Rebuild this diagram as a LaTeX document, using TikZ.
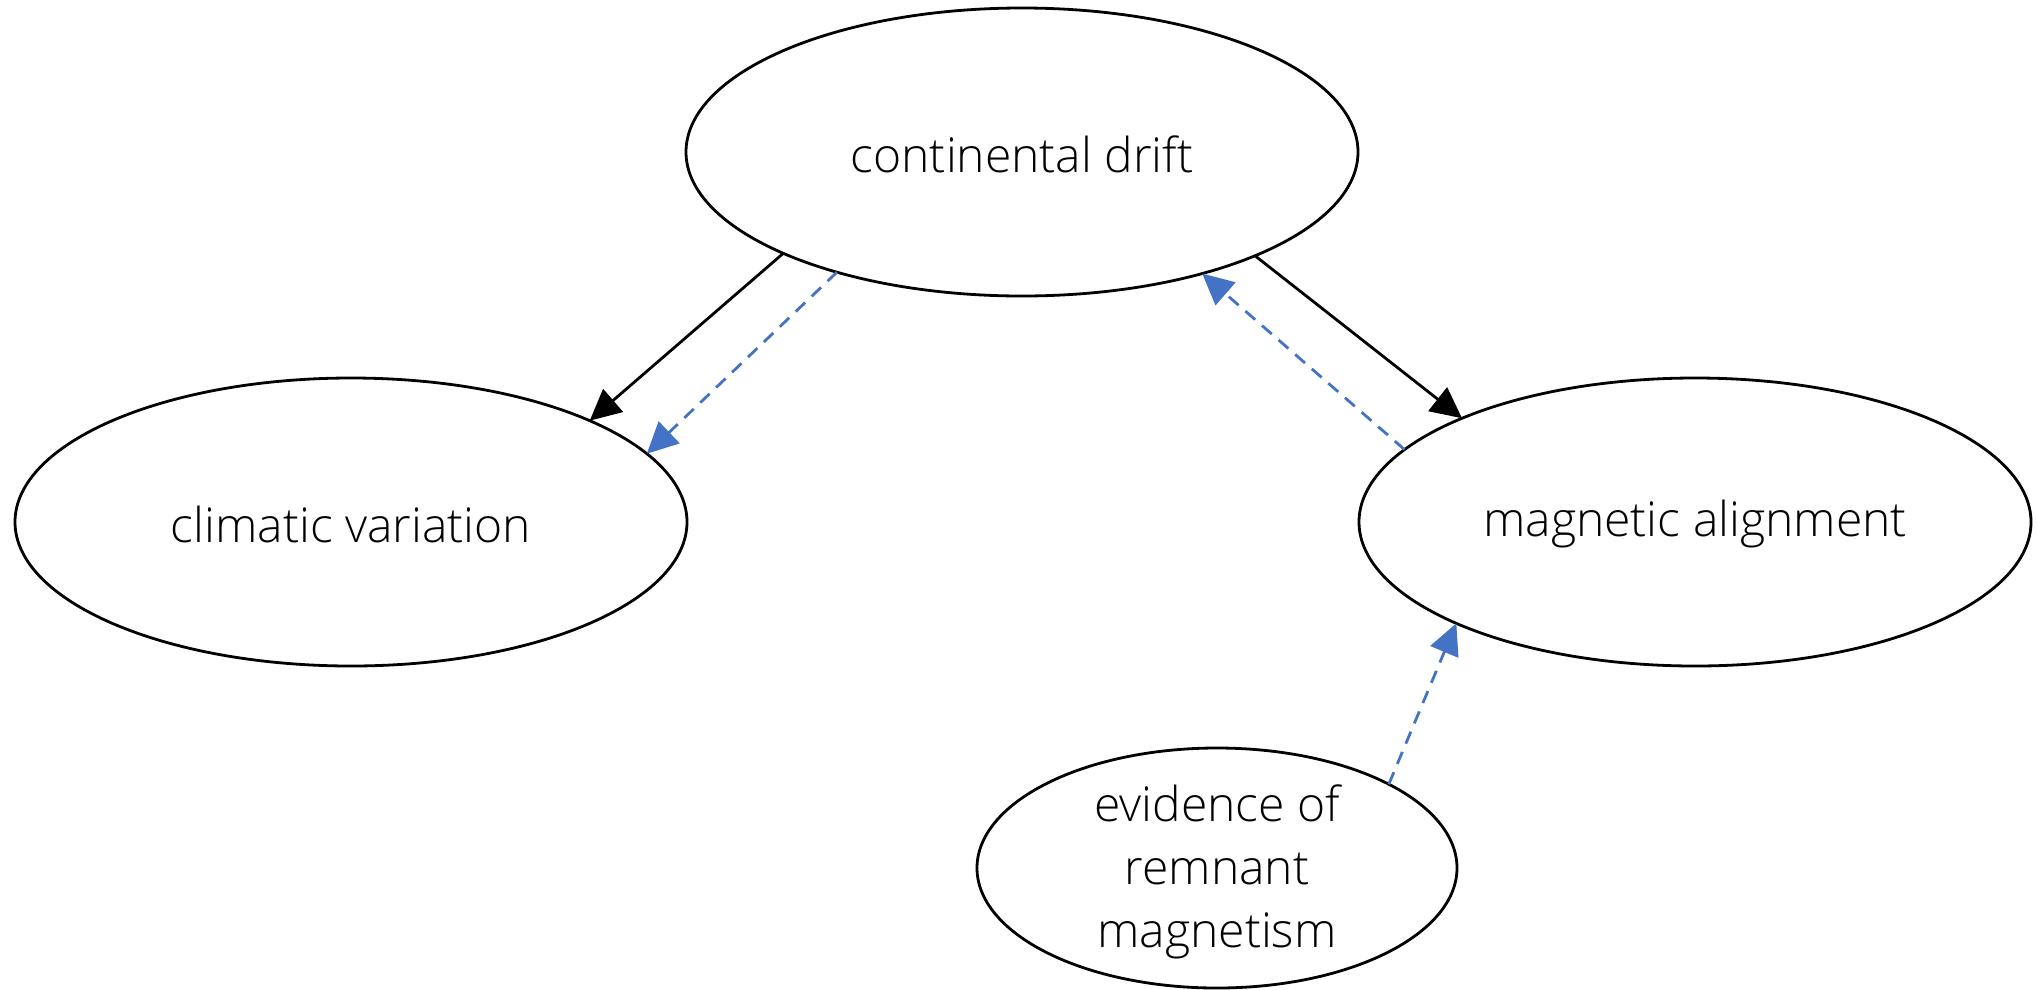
\documentclass[tikz,border=0pt]{standalone}
\usepackage{fontspec}
\setmainfont{Open Sans Light}
\usetikzlibrary{shapes.geometric,arrows.meta}
\definecolor{linkblue}{HTML}{4472C4}
\begin{document}
\begin{tikzpicture}[x=1pt,y=-1pt,
  bubble/.style={draw=black,line width=2.8pt,ellipse,inner sep=0pt,outer sep=0pt,
    minimum width=672pt,minimum height=288pt},
  smallbubble/.style={bubble,minimum width=480pt,minimum height=240pt},
  txt/.style={font=\fontsize{48}{63}\selectfont,align=center},
  solidlink/.style={draw=black,line width=2.8pt,-{Triangle[length=31pt,width=30pt]}},
  dashlink/.style={draw=linkblue,line width=2.8pt,dash pattern=on 13pt off 9pt,
    -{Triangle[length=31pt,width=30pt]}}]
\useasboundingbox (0,0) rectangle (2037,989);
\node[bubble] (cd) at (1022,152) {};
\node[txt] (cdt) at ([yshift=-2pt]cd.center) {continental drift};
\node[bubble] (cv) at (351,522) {};
\node[txt] (cvt) at ([yshift=-2pt]cv.center) {climatic variation};
\node[bubble] (ma) at (1695,522) {};
\node[txt] (mat) at ([yshift=-2pt]ma.center) {magnetic alignment};
\node[smallbubble] (ev) at (1217,868) {};
\node[txt] (evt) at ([yshift=-4pt]ev.center) {evidence of\\remnant\\magnetism};
\draw[solidlink] (cd.203.4) -- (cv.23.1);
\draw[dashlink] (cd.213.6) -- (cv.13.8);
\draw[solidlink] (cd.336.8) -- (ma.156.8);
\draw[dashlink] (ma.166.5) -- (cd.326.9);
\draw[dashlink] (ev.26.4) -- (ma.203.5);
\end{tikzpicture}
\end{document}
